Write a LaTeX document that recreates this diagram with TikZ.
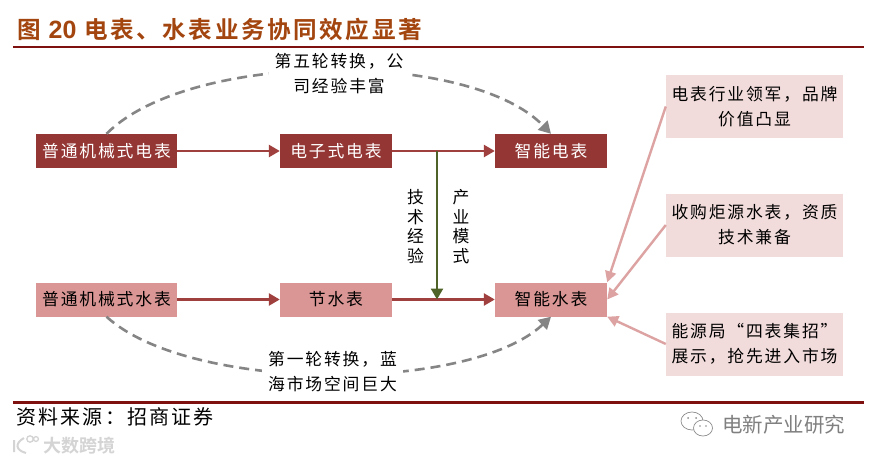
\documentclass[tikz,border=0pt]{standalone}
\usepackage{fontspec}
\usetikzlibrary{arrows.meta}
\setmainfont{Liberation Sans}
\newfontfamily\cjk[LetterSpace=11]{Noto Sans CJK SC}
\newfontfamily\cjkt[LetterSpace=10.8,BoldFont={Noto Sans CJK SC Bold}]{Noto Sans CJK SC}
\definecolor{darkbox}{HTML}{943634}
\definecolor{lightbox}{HTML}{D99694}
\definecolor{palebox}{HTML}{F2DCDB}
\definecolor{rule}{HTML}{7F1010}
\definecolor{titlec}{HTML}{A3450F}
\definecolor{flow}{HTML}{A0403E}
\definecolor{greenarrow}{HTML}{4F6228}
\definecolor{pinkarrow}{HTML}{DCA3A2}
\definecolor{dashc}{HTML}{858585}
\tikzset{
  basebox/.style={inner sep=0pt,font=\cjk\fontsize{16.8}{25}\selectfont,align=center},
  wide/.style={basebox,minimum width=141pt,minimum height=34pt},
  narrow/.style={basebox,minimum width=112pt,minimum height=34pt},
  darkfill/.style={fill=darkbox,text=white},
  lightfill/.style={fill=lightbox,text=black},
  sidebox/.style={basebox,fill=palebox,minimum width=177pt,minimum height=63pt},
  lbl/.style={inner ysep=0pt,inner xsep=6pt,font=\cjk\fontsize{16.8}{25}\selectfont,align=center,text=black},
  vlbl/.style={inner sep=0pt,font=\cjk\fontsize{16.8}{19.7}\selectfont,align=center,text=black},
  flowline/.style={draw=flow,line width=2.5pt,-{Triangle[length=11pt,width=12pt]}},
  greenline/.style={draw=greenarrow,line width=2.4pt,-{Triangle[length=11pt,width=12pt]}},
  pinkline/.style={draw=pinkarrow,line width=2.4pt,-{Triangle[length=11pt,width=11pt]}},
  dashline/.style={draw=dashc,line width=2.6pt,dash pattern=on 10pt off 6pt,-{Triangle[length=12pt,width=13pt]}},
  rulel/.style={draw=rule,line width=2.4pt}
}
\begin{document}
\begin{tikzpicture}[x=1pt,y=-1pt]
\useasboundingbox (0,0) rectangle (875,463);
\fill[white] (0,0) rectangle (875,463);
% title
\node[inner sep=0pt,anchor=west,text=titlec] (title) at (17,30)
  {\cjkt\bfseries\fontsize{23.6}{28}\selectfont 图 {\fontspec{Liberation Sans}\bfseries\fontsize{25}{28}\selectfont 20} 电表、水表业务协同效应显著};
\coordinate (tl) at (13,47); \coordinate (tr) at (864,47);
\draw[rulel] (tl) -- (tr);
\coordinate (bl) at (13,402.5); \coordinate (br) at (864,402.5);
\draw[rulel] (bl) -- (br);
% boxes
\node[wide,darkfill] (e1) at (106.5,151) {普通机械式电表};
\node[narrow,darkfill] (e2) at (336,151) {电子式电表};
\node[narrow,darkfill] (e3) at (551,151) {智能电表};
\node[wide,lightfill] (w1) at (106.5,299.5) {普通机械式水表};
\node[narrow,lightfill] (w2) at (336,299.5) {节水表};
\node[narrow,lightfill] (w3) at (551,299.5) {智能水表};
\node[sidebox] (r1) at (754.5,106.5) {电表行业领军，品牌\\价值凸显};
\node[sidebox] (r2) at (754.5,225) {收购炬源水表，资质\\技术兼备};
\node[sidebox] (r3) at (754.5,344) {能源局“四表集招”\\展示，抢先进入市场};
% flows
\draw[flowline] (e1) -- (e2);
\draw[flowline] (e2) -- (e3);
\draw[flowline] (w1) -- (w2);
\draw[flowline] (w2) -- (w3);
\coordinate (gs) at (437,151); \coordinate (ge) at (437,299.5);
\draw[greenline] (gs) -- (ge);
% dashed curves
\draw[dashline] (e1.north) .. controls (190,50) and (470,50) .. (e3.north);
\draw[dashline] (w1.south) .. controls (190,393) and (470,393) .. (w3.south);
% curve labels
\node[lbl,fill=white] (t1) at (339,73.5) {第五轮转换，公\\司经验丰富};
\node[lbl,fill=white] (t2) at (332.5,371.5) {第一轮转换，蓝\\海市场空间巨大};
\node[vlbl] (t3) at (415.5,226.5) {技\\术\\经\\验};
\node[vlbl] (t4) at (461,226.5) {产\\业\\模\\式};
% side arrows
\draw[pinkline] (r1.west) -- (w3.north east);
\draw[pinkline] (r2.west) -- (w3.east);
\draw[pinkline] (r3.west) -- (w3.south east);
% footer
\node[inner sep=0pt,anchor=west,text=black] (src) at (16,417)
  {\cjk\fontsize{20}{24}\selectfont 资料来源：招商证券};
% watermarks
\node[inner sep=0pt,anchor=west,text=black!50] (wm1) at (722,425)
  {\fontspec{Noto Sans CJK SC}\fontsize{20.5}{24}\selectfont 电新产业研究};
\draw[black!45,line width=0.7pt] (692,421) ellipse (11pt and 9pt);
\draw[black!45,line width=0.7pt,fill=white] (703,428) ellipse (9.5pt and 8pt);
\fill[black!45] (688,418) circle (1pt) (696,418) circle (1pt) (700,426) circle (0.9pt) (706,426) circle (0.9pt);
\node[inner sep=0pt,anchor=west,text=black!17] (wm2) at (43,446)
  {\fontspec{Noto Sans CJK SC Bold}\fontsize{18}{20}\selectfont 大数跨境};
\draw[black!17,line width=2pt] (14,440) -- (14,452) (24,438) .. controls (15,443) and (15,450) .. (26,453);
\draw[black!17,line width=1.3pt] (30,439) circle (3.2pt) (36,439) circle (2.4pt);
\end{tikzpicture}
\end{document}
